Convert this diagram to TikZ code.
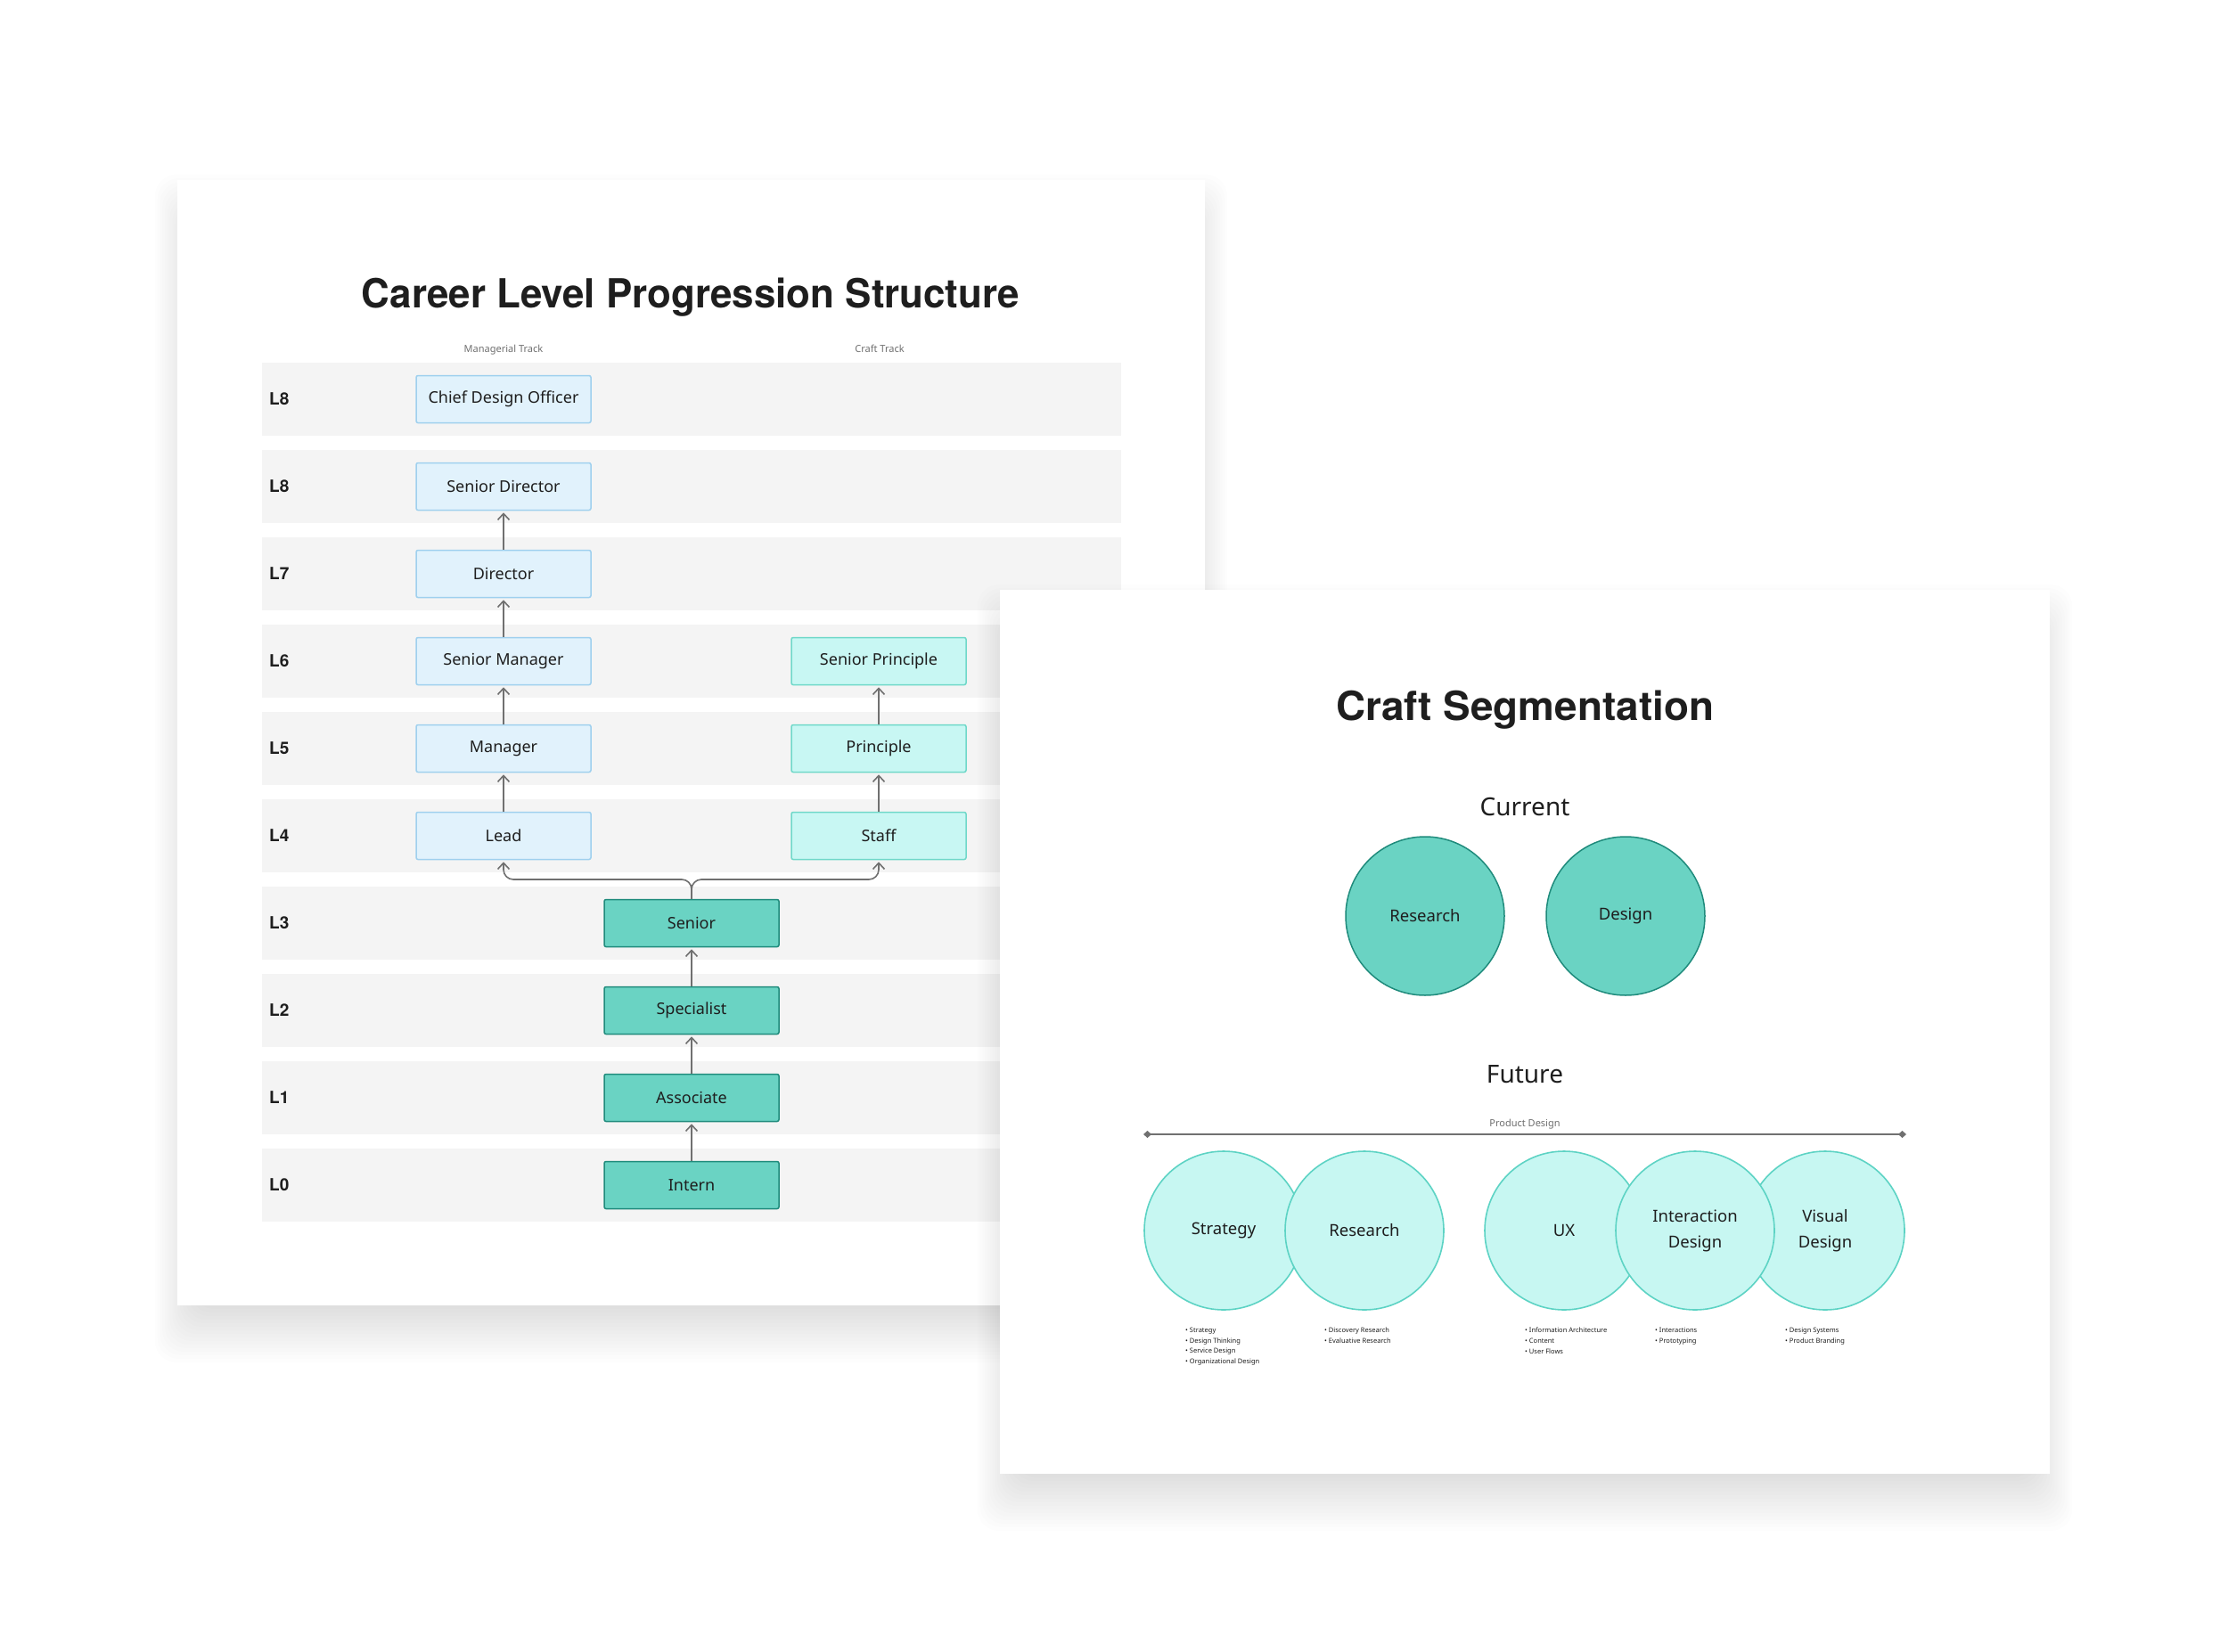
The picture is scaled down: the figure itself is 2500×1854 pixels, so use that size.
\documentclass[tikz,border=0pt]{standalone}
\usepackage{fontspec}
\setmainfont{Noto Sans}
\newfontfamily\heavyfam{TeX Gyre Heros}
\usepackage{graphicx}
\usetikzlibrary{arrows.meta}
\definecolor{ink}{HTML}{1E1E1E}
\definecolor{band}{HTML}{F4F4F4}
\definecolor{mgrF}{HTML}{E1F2FC}
\definecolor{mgrB}{HTML}{9FD0EE}
\definecolor{crF}{HTML}{C8F7F3}
\definecolor{crB}{HTML}{6FD8C9}
\definecolor{coF}{HTML}{6AD3C3}
\definecolor{coB}{HTML}{1F8B7C}
\definecolor{arrC}{HTML}{707070}
\definecolor{futF}{HTML}{C7F7F2}
\definecolor{futB}{HTML}{5DD3C4}
\definecolor{subC}{HTML}{6E6E6E}
\newcommand\panelshadow[4]{%
  \foreach \e in {-28,-24,...,36}{%
    \fill[black,opacity=0.0075,rounded corners=24pt] (#1-0.7*\e,#2+30-\e) rectangle (#3+0.7*\e,#4+28+\e);
  }}
\begin{document}
\begin{tikzpicture}[x=1pt,y=-1pt,
  every node/.style={text=ink},
  boxbase/.style={line width=1.5pt, rounded corners=2pt, minimum width=196pt, minimum height=53pt, inner sep=0pt, font=\fontsize{18}{20}\selectfont},
  mgrbox/.style={boxbase, draw=mgrB, fill=mgrF},
  crbox/.style={boxbase, draw=crB, fill=crF},
  cobox/.style={boxbase, draw=coB, fill=coF},
  lvl/.style={anchor=west, inner sep=0pt, font=\fontsize{19}{20}\selectfont\heavyfam\bfseries},
  arr/.style={draw=arrC, line width=1.6pt, -{Straight Barb[length=7pt,width=13pt,line width=1.6pt]}, shorten >=2pt},
  bigtitle/.style={anchor=base, inner sep=0pt, font=\fontsize{45}{50}\selectfont\heavyfam\bfseries},
  subhead/.style={anchor=base, inner sep=0pt, font=\fontsize{28}{30}\selectfont},
  tracklbl/.style={anchor=base, inner sep=0pt, text=subC, font=\fontsize{11}{12}\selectfont},
  curcirc/.style={circle, draw=coB, fill=coF, line width=1.5pt, minimum size=178pt, inner sep=0pt, font=\fontsize{18.5}{29}\selectfont},
  futcirc/.style={circle, draw=futB, fill=futF, line width=1.6pt, minimum size=178pt, inner sep=0pt, align=center, font=\fontsize{18.5}{29}\selectfont},
  blist/.style={anchor=north west, inner sep=0pt, align=left, font=\fontsize{7.5}{11.6}\selectfont}
]
\useasboundingbox[fill=white] (0,0) rectangle (2500,1854);

% ---------- left panel ----------
\panelshadow{199}{202}{1352}{1465}
\fill[white] (199,202) rectangle (1352,1465);

\node[bigtitle] (t1) at (775,345) {\resizebox{738pt}{\height}{Career Level Progression Structure}};
\node[tracklbl] (trm) at (565,395) {Managerial Track};
\node[tracklbl] (trc) at (987,395) {Craft Track};

\foreach \i in {0,...,9}{
  \fill[band] (294,407+98*\i) rectangle (1258,489+98*\i);
}
\foreach \i/\l in {0/L8,1/L8,2/L7,3/L6,4/L5,5/L4,6/L3,7/L2,8/L1,9/L0}{
  \node[lvl] (lv\i) at (302,448+98*\i) {\l};
}

\node[mgrbox] (cdo) at (565,448) {Chief Design Officer};
\node[mgrbox] (sd)  at (565,546) {Senior Director};
\node[mgrbox] (dir) at (565,644) {Director};
\node[mgrbox] (sm)  at (565,742) {Senior Manager};
\node[mgrbox] (man) at (565,840) {Manager};
\node[mgrbox] (lead) at (565,938) {Lead};
\node[crbox] (sp)  at (986,742) {Senior Principle};
\node[crbox] (pr)  at (986,840) {Principle};
\node[crbox] (st)  at (986,938) {Staff};
\node[cobox] (sen) at (776,1036) {Senior};
\node[cobox] (spe) at (776,1134) {Specialist};
\node[cobox] (aso) at (776,1232) {Associate};
\node[cobox] (int) at (776,1330) {Intern};

\draw[arr] (dir.north) -- (sd.south);
\draw[arr] (sm.north) -- (dir.south);
\draw[arr] (man.north) -- (sm.south);
\draw[arr] (lead.north) -- (man.south);
\draw[arr] (pr.north) -- (sp.south);
\draw[arr] (st.north) -- (pr.south);
\draw[arr] (spe.north) -- (sen.south);
\draw[arr] (aso.north) -- (spe.south);
\draw[arr] (int.north) -- (aso.south);
\coordinate (fork) at (776,987);
\draw[arr, rounded corners=11pt] (sen.north) -- (fork) -| (lead.south);
\draw[arr, rounded corners=11pt] (sen.north) -- (fork) -| (st.south);

% ---------- right panel ----------
\panelshadow{1122}{662}{2300}{1654}
\fill[white] (1122,662) rectangle (2300,1654);

\node[bigtitle] (t2) at (1711,808) {\resizebox{424pt}{\height}{Craft Segmentation}};
\node[subhead] (cur) at (1711,915) {Current};
\node[curcirc] (cres) at (1599,1028) {Research};
\node[curcirc] (cdes) at (1824,1028) {Design};

\node[subhead] (fut) at (1711,1215) {Future};
\node[tracklbl] (pdl) at (1711,1264) {Product Design};
\coordinate (pdA) at (1283,1273);
\coordinate (pdB) at (2139,1273);
\draw[draw=arrC, line width=1.8pt, {Diamond[length=9pt,width=8pt]}-{Diamond[length=9pt,width=8pt]}] (pdA) -- (pdB);

\node[futcirc] (fstr) at (1373,1381) {Strategy};
\node[futcirc] (fres) at (1531,1381) {Research};
\node[futcirc] (fux)  at (1755,1381) {UX};
\node[futcirc] (fvis) at (2048,1381) {Visual\\Design};
\node[futcirc] (fint) at (1902,1381) {Interaction\\Design};

\node[blist] (lstr) at (1330,1490) {• Strategy\\• Design Thinking\\• Service Design\\• Organizational Design};
\node[blist] (lres) at (1486,1490) {• Discovery Research\\• Evaluative Research};
\node[blist] (lux)  at (1711,1490) {• Information Architecture\\• Content\\• User Flows};
\node[blist] (lint) at (1857,1490) {• Interactions\\• Prototyping};
\node[blist] (lvis) at (2003,1490) {• Design Systems\\• Product Branding};
\end{tikzpicture}
\end{document}
